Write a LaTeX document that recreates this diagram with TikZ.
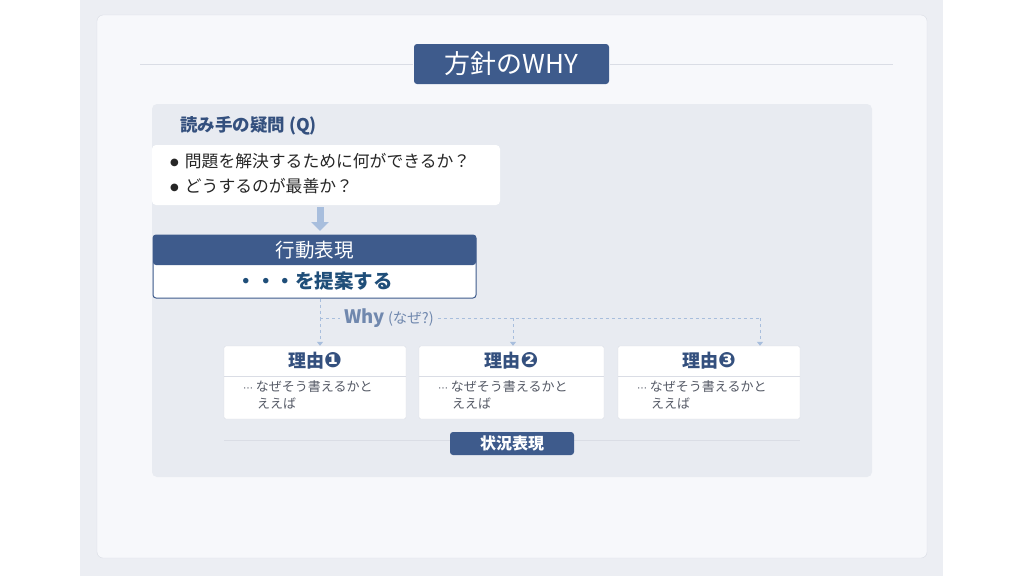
\documentclass[tikz,border=0pt]{standalone}
\usepackage{fontspec}
\setmainfont{Noto Sans CJK JP}
\newfontfamily\dingfont{DejaVu Sans}
\usetikzlibrary{arrows.meta}
\definecolor{band}{HTML}{ECEEF3}
\definecolor{cardbg}{HTML}{F7F8FB}
\definecolor{cardline}{HTML}{DADDE5}
\definecolor{panel}{HTML}{E8EBF1}
\definecolor{navy}{HTML}{3E5B8C}
\definecolor{deepblue}{HTML}{1F4E79}
\definecolor{headtext}{HTML}{34507E}
\definecolor{paleblue}{HTML}{A8BEDD}
\definecolor{whyblue}{HTML}{7088AE}
\definecolor{greytext}{HTML}{555A66}
\newcommand{\qdot}{\raisebox{2.5pt}{\dingfont\fontsize{10}{10}\selectfont ●}\hspace{6pt}}

\begin{document}
\begin{tikzpicture}[x=1pt,y=-1pt,
            every node/.style={inner sep=0pt},
            navybox/.style={fill=navy, text=white, rounded corners=3pt},
            reasonbox/.style={draw=cardline, fill=white, rounded corners=2pt, minimum width=182pt, minimum height=73pt},
            dash_style/.style={draw=paleblue, dashed, line width=1pt, -{Triangle[width=6pt,length=4pt]}}]
            \useasboundingbox (0,0) rectangle (1024,576);
            % background and card
            \fill[white] (0,0) rectangle (1024,576);
            \fill[band] (80,0) rectangle (943,576);
            \draw[cardline, fill=cardbg, rounded corners=6pt] (97,15) rectangle (927,558);
            \draw[cardline, line width=1pt] (140,64) -- (413,64);
            \draw[cardline, line width=1pt] (610,64) -- (893,64);
            \node[navybox, minimum width=195pt, minimum height=40pt, font=\fontsize{26}{30}\selectfont] (title) at (511.5,64) {方針のWHY};
            % panel
            \fill[panel, rounded corners=5pt] (152,104) rectangle (872,477);
            \node[anchor=west, text=headtext, font=\bfseries\fontsize{17.5}{20}\selectfont] (qlabel) at (180,126) {読み手の疑問 (Q)};
            \node[fill=white, rounded corners=4pt, minimum width=348pt, minimum height=60pt] (qbox) at (326,175) {};
            \node[anchor=west, align=left, text=black!85, font=\fontsize{16.8}{25}\selectfont] (qtext) at (170,174) {\qdot 問題を解決するために何ができるか？\\\qdot どうするのが最善か？};
            % action
            \node[draw=navy, line width=1pt, fill=white, rounded corners=3pt, minimum width=323pt, minimum height=63pt] (act) at (314.5,266.5) {};
            \node[fill=navy, rounded corners=3pt, minimum width=323pt, minimum height=30pt, text=white, font=\fontsize{19.5}{22}\selectfont] (acthead) at (314.5,250) {行動表現};
            \node[text=deepblue, font=\bfseries\fontsize{19.5}{22}\selectfont] (actbody) at (314.5,281) {・・・を提案する};
            \draw[paleblue, line width=7pt, -{Triangle[width=17pt,length=9pt]}] (320,207) -- (320,231);
            % reasons
            \node[reasonbox] (r1) at (315,382.5) {};
            \node[reasonbox, minimum width=185pt] (r2) at (511.5,382.5) {};
            \node[reasonbox] (r3) at (709,382.5) {};
            \foreach \n/\d in {1/❶,2/❷,3/❸} {
                \draw[cardline] (r\n.west |- 0,376) -- (r\n.east |- 0,376);
                \node[text=headtext, font=\bfseries\fontsize{18}{20}\selectfont] (h\n) at ([yshift=-15pt]r\n.north) {理由{\dingfont\fontsize{21}{21}\selectfont\d}};
                \node[anchor=north west, align=left, text=greytext, font=\fontsize{13}{16.5}\selectfont] (b\n) at ([xshift=19pt,yshift=-35pt]r\n.north west) {{\dingfont\fontsize{10}{10}\selectfont ⋯} なぜそう書えるかと\\\hspace{14pt}ええば};
            }
            % why connectors
            \coordinate (j1) at (320,318);
            \coordinate (j2) at (513,318);
            \coordinate (j3) at (760,318);
            \node[fill=panel, inner xsep=4pt, text=whyblue, font=\bfseries\fontsize{18.5}{20}\selectfont] (why) at (389,318) {Why\,{\mdseries\fontsize{14.5}{16}\selectfont (なぜ?)}};
            \draw[paleblue, dashed, line width=1pt] (act.south -| j1) -- (j1);
            \draw[paleblue, dashed, line width=1pt] (j1) -- (why.west);
            \draw[paleblue, dashed, line width=1pt] (why.east) -- (j3);
            \draw[dash_style] (j1) -- (j1 |- r1.north);
            \draw[dash_style] (j2) -- (j2 |- r2.north);
            \draw[dash_style] (j3) -- (j3 |- r3.north);
            % situation
            \draw[cardline, line width=1pt] (224,440) -- (800,440);
            \node[navybox, minimum width=124pt, minimum height=23pt, font=\bfseries\fontsize{16}{18}\selectfont] (sit) at (512,443.5) {状況表現};
        \end{tikzpicture}
\end{document}
